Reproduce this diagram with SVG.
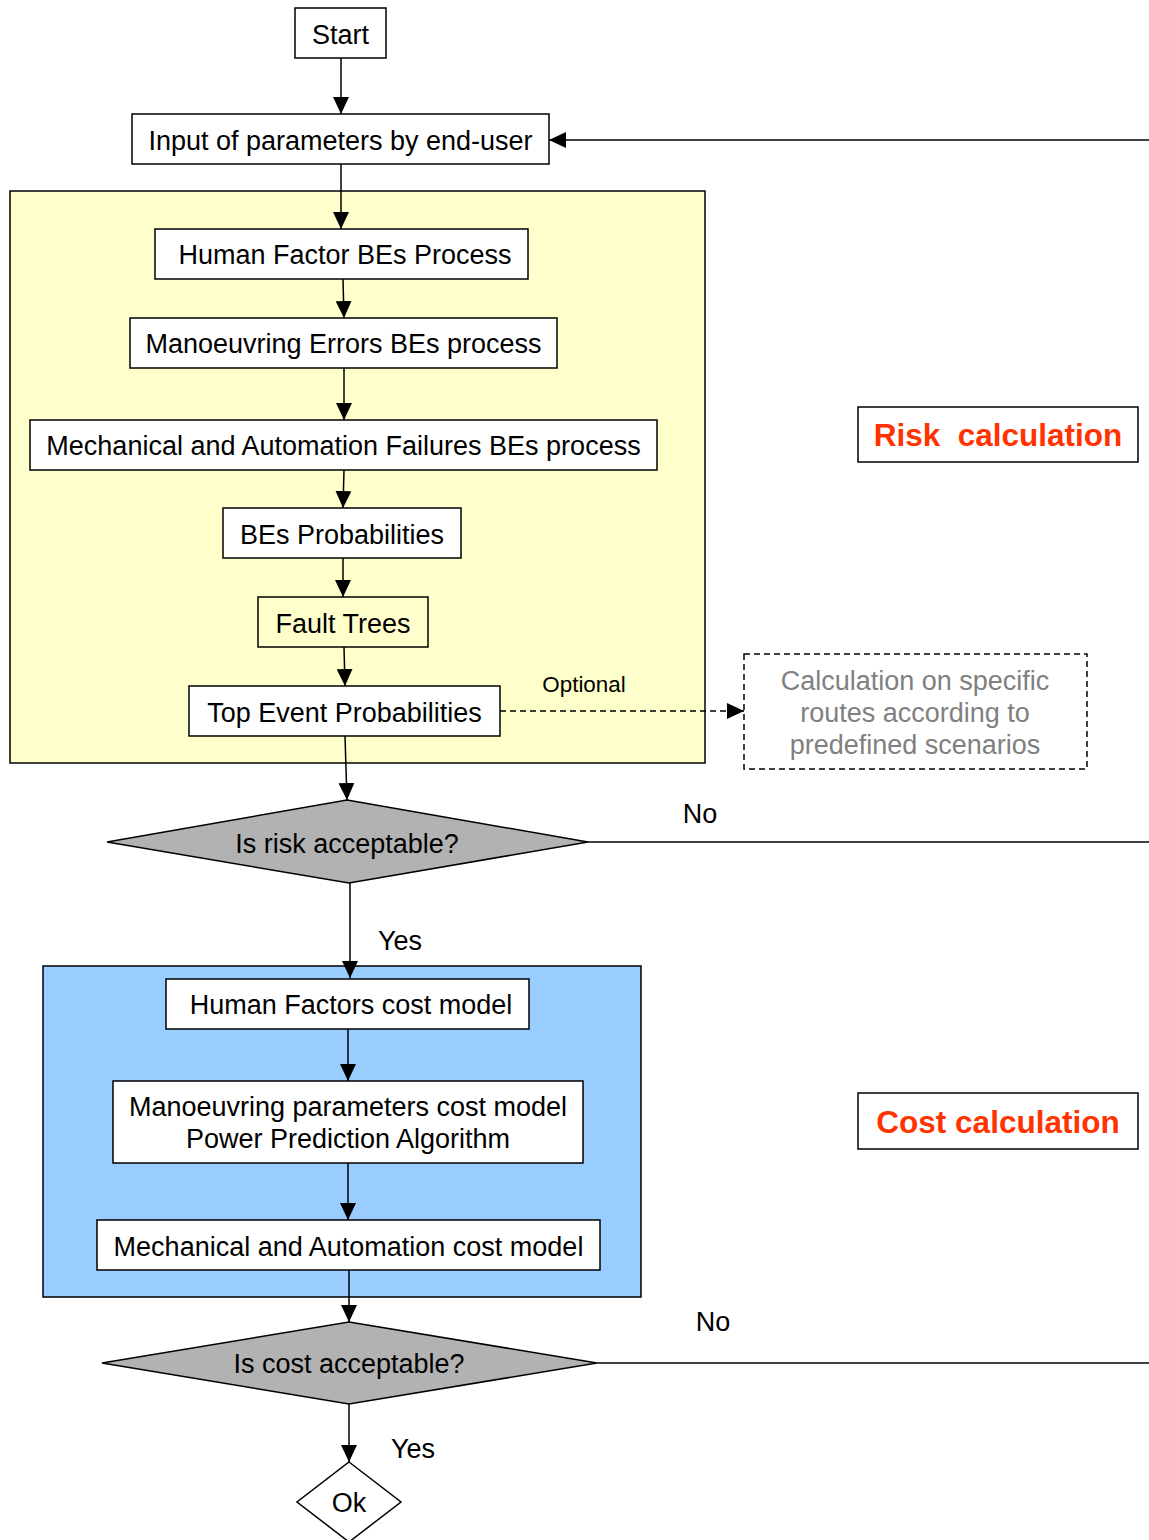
<svg xmlns="http://www.w3.org/2000/svg" width="1149" height="1540" viewBox="0 0 1149 1540">
  <defs>
    <marker id="arrow" markerUnits="userSpaceOnUse" markerWidth="17" markerHeight="16" refX="17" refY="8" orient="auto">
      <path d="M0,0 L17,8 L0,16 Z" fill="#000"/>
    </marker>
    <style>
      .box { fill: #fff; stroke: #000; stroke-width: 1.5; }
      .lbl { font-family: "Liberation Sans", Arial, sans-serif; font-size: 27px; fill: #000; text-anchor: middle; }
      .small { font-family: "Liberation Sans", Arial, sans-serif; font-size: 22.4px; fill: #000; text-anchor: middle; }
      .grey { font-family: "Liberation Sans", Arial, sans-serif; font-size: 27px; fill: #808080; text-anchor: middle; }
      .title { font-family: "Liberation Sans", Arial, sans-serif; font-size: 31.5px; font-weight: bold; fill: #FF3300; text-anchor: middle; }
      .edge { fill: none; stroke: #000; stroke-width: 1.5; }
      .arr { marker-end: url(#arrow); }
      .dash { stroke-dasharray: 6 4; }
      .decision { fill: #B2B2B2; stroke: #000; stroke-width: 1.5; }
    </style>
  </defs>

  <!-- section backgrounds -->
  <g id="risk-section">
    <rect x="10" y="191" width="695" height="572" fill="#FFFFCC" stroke="#000" stroke-width="1.5"/>
  </g>
  <g id="cost-section">
    <rect x="43" y="966" width="598" height="331" fill="#99CCFF" stroke="#000" stroke-width="1.5"/>
  </g>

  <!-- connectors -->
  <g id="connectors">
    <line class="edge arr" x1="341" y1="58" x2="341" y2="114"/>
    <line class="edge arr" x1="1149" y1="140" x2="549" y2="140"/>
    <line class="edge arr" x1="341" y1="164" x2="341" y2="229"/>
    <line class="edge arr" x1="343" y1="279" x2="344" y2="318"/>
    <line class="edge arr" x1="344" y1="368" x2="344" y2="420"/>
    <line class="edge arr" x1="344" y1="470" x2="343" y2="508"/>
    <line class="edge arr" x1="343" y1="558" x2="343" y2="597"/>
    <line class="edge arr" x1="344" y1="647" x2="345" y2="686"/>
    <line class="edge arr dash" x1="500" y1="711" x2="744" y2="711"/>
    <line class="edge arr" x1="345" y1="736" x2="347" y2="800"/>
    <line class="edge" x1="588" y1="842" x2="1149" y2="842"/>
    <line class="edge arr" x1="350" y1="883" x2="350" y2="978"/>
    <line class="edge arr" x1="348" y1="1029" x2="348" y2="1081"/>
    <line class="edge arr" x1="348" y1="1163" x2="348" y2="1220"/>
    <line class="edge arr" x1="349" y1="1270" x2="349" y2="1322"/>
    <line class="edge" x1="597" y1="1363" x2="1149" y2="1363"/>
    <line class="edge arr" x1="349" y1="1404" x2="349" y2="1462"/>
    <text class="small" x="584" y="692">Optional</text>
    <text class="lbl" x="700" y="823">No</text>
    <text class="lbl" x="400" y="950">Yes</text>
    <text class="lbl" x="713" y="1331">No</text>
    <text class="lbl" x="413" y="1458">Yes</text>
  </g>

  <g id="start">
    <rect class="box" x="295" y="8" width="91" height="50"/>
    <text class="lbl" x="340.5" y="44">Start</text>
  </g>
  <g id="input">
    <rect class="box" x="132" y="114" width="417" height="50"/>
    <text class="lbl" x="340.5" y="150">Input of parameters by end-user</text>
  </g>
  <g id="human-factor-bes">
    <rect class="box" x="155" y="229" width="373" height="50"/>
    <text class="lbl" x="345" y="264">Human Factor BEs Process</text>
  </g>
  <g id="manoeuvring-errors-bes">
    <rect class="box" x="130" y="318" width="427" height="50"/>
    <text class="lbl" x="343.5" y="353">Manoeuvring Errors BEs process</text>
  </g>
  <g id="mechanical-failures-bes">
    <rect class="box" x="30" y="420" width="627" height="50"/>
    <text class="lbl" x="343.5" y="455">Mechanical and Automation Failures BEs process</text>
  </g>
  <g id="bes-probabilities">
    <rect class="box" x="223" y="508" width="238" height="50"/>
    <text class="lbl" x="342" y="544">BEs Probabilities</text>
  </g>
  <g id="fault-trees">
    <rect x="258" y="597" width="170" height="50" fill="#FFFFCC" stroke="#000" stroke-width="1.5"/>
    <text class="lbl" x="343" y="633">Fault Trees</text>
  </g>
  <g id="top-event-probabilities">
    <rect class="box" x="189" y="686" width="311" height="50"/>
    <text class="lbl" x="344.5" y="722">Top Event Probabilities</text>
  </g>
  <g id="specific-routes">
    <rect x="744" y="654" width="343" height="115" fill="#fff" stroke="#000" stroke-width="1.5" stroke-dasharray="6 4"/>
    <text class="grey" x="915" y="690">Calculation on specific</text>
    <text class="grey" x="915" y="722">routes according to</text>
    <text class="grey" x="915" y="754">predefined scenarios</text>
  </g>
  <g id="risk-decision">
    <polygon class="decision" points="347,800 588,842 349,883 107,842"/>
    <text class="lbl" x="347" y="853">Is risk acceptable?</text>
  </g>
  <g id="human-factors-cost">
    <rect class="box" x="166" y="979" width="363" height="50"/>
    <text class="lbl" x="351" y="1014">Human Factors cost model</text>
  </g>
  <g id="manoeuvring-cost">
    <rect class="box" x="113" y="1081" width="470" height="82"/>
    <text class="lbl" x="348" y="1116">Manoeuvring parameters cost model</text>
    <text class="lbl" x="348" y="1148">Power Prediction Algorithm</text>
  </g>
  <g id="mechanical-cost">
    <rect class="box" x="97" y="1220" width="503" height="50"/>
    <text class="lbl" x="348.5" y="1256">Mechanical and Automation cost model</text>
  </g>
  <g id="cost-decision">
    <polygon class="decision" points="349,1322 597,1363 349,1404 102,1363"/>
    <text class="lbl" x="349" y="1373">Is cost acceptable?</text>
  </g>
  <g id="ok">
    <polygon fill="#fff" stroke="#000" stroke-width="1.5" points="349,1462 401,1502 349,1542 297,1502"/>
    <text class="lbl" x="349" y="1512">Ok</text>
  </g>
  <g id="risk-calculation">
    <rect class="box" x="858" y="407" width="280" height="55"/>
    <text class="title" x="998" y="446" xml:space="preserve">Risk  calculation</text>
  </g>
  <g id="cost-calculation">
    <rect class="box" x="858" y="1093" width="280" height="56"/>
    <text class="title" x="998" y="1133">Cost calculation</text>
  </g>
</svg>
